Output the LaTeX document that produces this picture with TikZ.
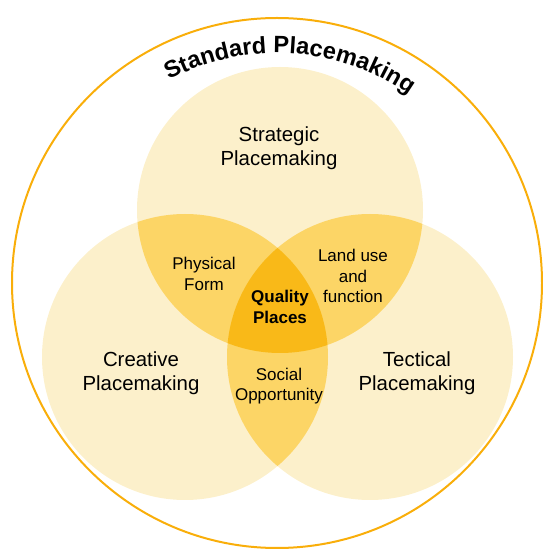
\documentclass[tikz,border=0pt]{standalone}
\usepackage{fontspec}
\setmainfont{Liberation Sans}
\usetikzlibrary{decorations.text}
\definecolor{lightfill}{HTML}{FCF0CB}
\definecolor{midfill}{HTML}{FCD566}
\definecolor{darkfill}{HTML}{F9B918}
\definecolor{ringline}{HTML}{F9AE0A}

\begin{document}
\begin{tikzpicture}[x=1pt,y=1pt,big/.style={align=center,font=\fontsize{20.4}{24}\selectfont},
small/.style={align=center,font=\fontsize{17}{20.5}\selectfont}]
\useasboundingbox (0,0) rectangle (543,552);
\coordinate (ctr) at (277,269);
\coordinate (strat) at (280,342);
\coordinate (creat) at (185,195);
\coordinate (tect) at (370,195);
\draw[ringline,line width=2pt] (ctr) circle (265);
\fill[lightfill] (strat) circle (143) (creat) circle (143) (tect) circle (143);
\begin{scope}\clip (strat) circle (143);\fill[midfill] (creat) circle (143) (tect) circle (143);\end{scope}
\begin{scope}\clip (creat) circle (143);\fill[midfill] (tect) circle (143);\end{scope}
\begin{scope}\clip (strat) circle (143);\clip (creat) circle (143);\fill[darkfill] (tect) circle (143);\end{scope}
\path[decorate,decoration={text along path,text align=center,
text={|\bfseries\fontsize{23.6}{28}\selectfont|Standard Placemaking}}]
(ctr) ++(122:230) arc[start angle=122,end angle=51,radius=230];
\node[big] (stratlbl) at (279,404) {Strategic\\Placemaking};
\node[big] (creatlbl) at (141,179) {Creative\\Placemaking};
\node[big] (tectlbl) at (417,179) {Tectical\\Placemaking};
\node[small] (form) at (204,278) {Physical\\Form};
\node[small] (land) at (353,276) {Land use\\and\\function};
\node[small] (social) at (279,166) {Social\\Opportunity};
\node[small,font=\bfseries\fontsize{17}{20.5}\selectfont] (quality) at (280,245) {Quality\\Places};
\end{tikzpicture}
\end{document}
